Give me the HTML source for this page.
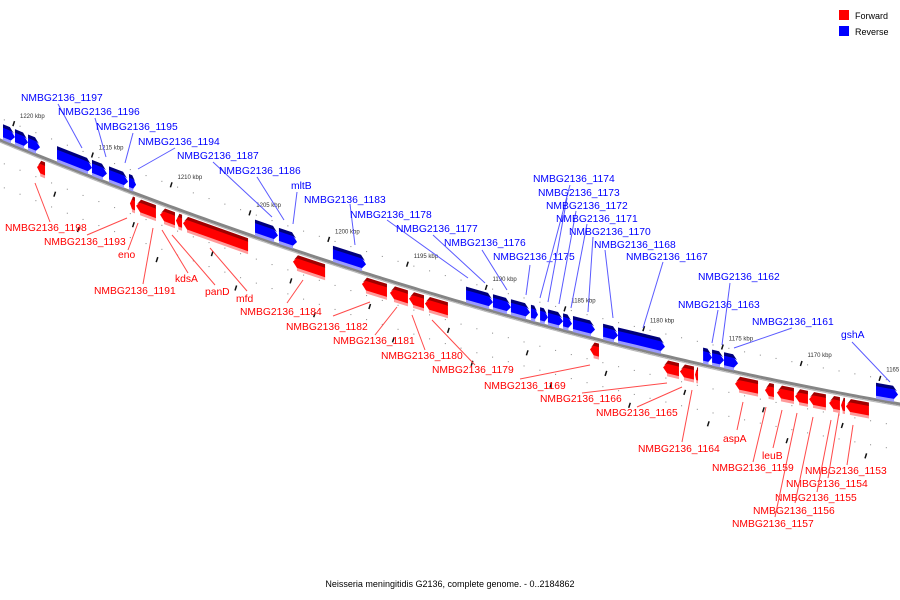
<!DOCTYPE html>
<html><head><meta charset="utf-8"><title>Genome map</title>
<style>
html,body{margin:0;padding:0;background:#fff;}
svg{display:block;font-family:"Liberation Sans","DejaVu Sans",sans-serif;}
</style></head>
<body>
<svg id="map" width="900" height="600" viewBox="0 0 900 600">
  <rect x="0" y="0" width="900" height="600" fill="#fff"/>
  <g id="grid"></g>
  <path id="backbone" fill="none" stroke="#858585" stroke-width="3"/>
  <path id="backbone2" fill="none" stroke="#b8b8b8" stroke-width="1"/>
  <g id="ticks"></g>
  <g id="genes"></g>
  <g id="labels"></g>
  <g>
    <rect x="839" y="10" width="10" height="10" fill="#ff0000"/>
    <text x="855" y="19" font-size="9" fill="#000">Forward</text>
    <rect x="839" y="26" width="10" height="10" fill="#0000ff"/>
    <text x="855" y="35" font-size="9" fill="#000">Reverse</text>
  </g>
  <text x="450" y="587" font-size="9" text-anchor="middle" fill="#000">Neisseria meningitidis G2136, complete genome. - 0..2184862</text>
</svg>
<script>
// ---- data (kbp coordinates) ----
const tickKbp = [1220,1215,1210,1205,1200,1195,1190,1185,1180,1175,1170,1165];
const geneStart = [1221.08,1220.32,1219.49,1217.65,1215.43,1214.35,1213.08,1205.08,1203.56,1200.13,1191.68,1189.97,1188.83,1187.56,1186.98,1186.48,1185.52,1184.89,1182.98,1182.03,1176.63,1176.06,1175.30,1165.65,
  1218.92,1213.02,1212.63,1211.11,1210.10,1209.65,1202.67,1198.29,1196.51,1195.30,1194.29,1183.81,1179.17,1178.10,1177.14,1174.60,1172.70,1171.94,1170.79,1169.90,1168.63,1167.87,1167.56];
const geneEnd = [1220.32,1219.49,1218.73,1215.43,1214.48,1213.14,1212.63,1203.62,1202.41,1198.03,1189.97,1188.83,1187.62,1187.11,1186.48,1185.52,1184.95,1183.49,1182.03,1179.05,1176.06,1175.30,1174.41,1164.25,
  1218.41,1212.70,1211.37,1210.16,1209.71,1205.52,1200.63,1196.70,1195.37,1194.35,1192.83,1183.24,1178.16,1177.21,1176.95,1173.14,1172.13,1170.86,1169.97,1168.83,1167.94,1167.62,1166.10];
const geneStrand = ['-','-','-','-','-','-','-','-','-','-','-','-','-','-','-','-','-','-','-','-','-','-','-','-',
  '+','+','+','+','+','+','+','+','+','+','+','+','+','+','+','+','+','+','+','+','+','+','+'];

// ---- labels (annotation layout) ----
const labelText = ['NMBG2136_1197','NMBG2136_1196','NMBG2136_1195','NMBG2136_1194','NMBG2136_1187','NMBG2136_1186','mltB','NMBG2136_1183','NMBG2136_1178','NMBG2136_1177','NMBG2136_1176','NMBG2136_1175','NMBG2136_1174','NMBG2136_1173','NMBG2136_1172','NMBG2136_1171','NMBG2136_1170','NMBG2136_1168','NMBG2136_1167','NMBG2136_1162','NMBG2136_1163','NMBG2136_1161','gshA',
  'NMBG2136_1198','NMBG2136_1193','eno','NMBG2136_1191','kdsA','panD','mfd','NMBG2136_1184','NMBG2136_1182','NMBG2136_1181','NMBG2136_1180','NMBG2136_1179','NMBG2136_1169','NMBG2136_1166','NMBG2136_1165','NMBG2136_1164','aspA','leuB','NMBG2136_1159','NMBG2136_1153','NMBG2136_1154','NMBG2136_1155','NMBG2136_1156','NMBG2136_1157'];
const labelStrand = ['-','-','-','-','-','-','-','-','-','-','-','-','-','-','-','-','-','-','-','-','-','-','-',
  '+','+','+','+','+','+','+','+','+','+','+','+','+','+','+','+','+','+','+','+','+','+','+','+'];
const labelPos = [[21,97],[58,111],[96,126],[138,141],[177,155],[219,170],[291,185],[304,199],[350,214],[396,228],[444,242],[493,256],[533,178],[538,192],[546,205],[556,218],[569,231],[594,244],[626,256],[698,276],[678,304],[752,321],[841,334],
  [5,227],[44,241],[118,254],[94,290],[175,278],[205,291],[236,298],[240,311],[286,326],[333,340],[381,355],[432,369],[484,385],[540,398],[596,412],[638,448],[723,438],[762,455],[712,467],[805,470],[786,483],[775,497],[753,510],[732,523]];
const leaderPts = [[58,104,82,148],[95,118,106,157],[133,133,125,163],[175,148,138,169],[213,162,272,217],[257,177,284,220],[297,192,293,224],[350,204,355,245],[387,220,468,278],[433,235,485,283],[482,250,507,290],[530,265,526,295],[570,185,540,298],[567,198,548,302],[576,211,559,304],[587,224,571,308],[593,237,588,312],[605,250,613,318],[663,262,643,328],[730,283,722,345],[718,310,712,343],[792,328,734,348],[852,342,890,382],
  [35,183,50,222],[87,235,127,218],[128,250,138,223],[143,284,153,228],[188,273,162,230],[215,285,172,235],[247,291,210,248],[287,303,303,280],[333,316,370,302],[375,335,397,307],[425,350,412,315],[475,365,432,320],[520,379,590,365],[582,393,667,383],[637,407,682,387],[682,442,692,390],[737,430,743,402],[773,448,782,410],[753,462,766,407],[847,465,853,425],[828,478,839,413],[817,492,831,420],[795,503,813,417],[775,517,797,413]];

// ---- axis functions ----
function X(k){return 20+(1220-k)*15.75;}
function Y(x){return 140+0.413*x-0.000133*x*x;}
function slope(x){return 0.413-0.000266*x;}
function deg(x){return Math.atan(slope(x))*180/Math.PI;}
const NS='http://www.w3.org/2000/svg';
function mk(tag,attrs,parent){const e=document.createElementNS(NS,tag);for(const k in attrs)e.setAttribute(k,attrs[k]);parent.appendChild(e);return e;}

// backbone
let d='',d2='';
for(let x=-5;x<=905;x+=5){d+=(x===-5?'M':'L')+x+','+Y(x).toFixed(2);d2+=(x===-5?'M':'L')+x+','+(Y(x)+2.2).toFixed(2);}
document.getElementById('backbone').setAttribute('d',d);
document.getElementById('backbone2').setAttribute('d',d2);

// grid dots & dashes along parallel tracks
const grid=document.getElementById('grid');
const dotOffsets=[-22,22,46];
for(let k=1222;k>=1163;k-=1){
  const x=X(k); if(x<0||x>900) continue;
  for(const off of dotOffsets){
    const y=Y(x)+off;
    const dot=mk('rect',{x:(x-0.5).toFixed(1),y:(y-0.5).toFixed(1),width:1.1,height:1.1,fill:'#999'},grid);
    
    
  }
}
const dashTracks=[[-22,0.4],[32,-2.2],[58,1.3]];
for(let k=1220;k>=1163;k-=5){
  for(const tr of dashTracks){
    const x=X(k+tr[1]); if(x<2||x>898) continue;
    const y=Y(x)+tr[0];
    const dash=mk('line',{x1:(x-0.8).toFixed(1),y1:(y+2.5).toFixed(1),x2:(x+0.8).toFixed(1),y2:(y-2.5).toFixed(1),stroke:'#111','stroke-width':1.5},grid);
    
    
  }
}

// tick labels
const ticks=document.getElementById('ticks');
tickKbp.forEach(k=>{
  const x=X(k);
  const t=mk('text',{x:x.toFixed(1),y:(Y(x)-30).toFixed(1),'font-size':6,fill:'#333','font-family':'"Liberation Sans",sans-serif'},ticks);
  t.textContent=k+' kbp';
  
  
});

// genes
const genes=document.getElementById('genes');
for(let i=0;i<geneStart.length;i++){
  const xa=X(geneStart[i]), xb=X(geneEnd[i]); const w=xb-xa; const mid=(xa+xb)/2;
  const g=mk('g',{transform:`translate(${xa.toFixed(2)},${Y(xa).toFixed(2)}) skewY(${deg(mid).toFixed(2)})`},genes);
  
  
  const tip=Math.min(4,w*0.4);
  if(geneStrand[i]==='-'){
    mk('polygon',{points:`0,-5 ${w-tip},-5 ${w-tip},-1 0,-1`,fill:'#9a9aff'},g);
    mk('polygon',{points:`0,-14 ${w-tip},-14 ${w},-9 ${w-tip},-4 0,-4`,fill:'#0000ff'},g);
    mk('polygon',{points:`0,-17 ${w-tip-1},-17 ${w-1},-12 ${w-tip},-13.5 0,-13.5`,fill:'#00007a'},g);
  } else {
    mk('polygon',{points:`${tip},16 ${w},16 ${w},20 ${tip},20`,fill:'#ff9a9a'},g);
    mk('polygon',{points:`${tip},7 ${w},7 ${w},17 ${tip},17 0,12`,fill:'#ff0000'},g);
    mk('polygon',{points:`${tip+1},4 ${w},4 ${w},7.5 ${tip},7.5 1,10`,fill:'#a00000'},g);
  }
}

// labels
const labels=document.getElementById('labels');
for(let i=0;i<labelText.length;i++){
  const col=labelStrand[i]==='-'?'#0000ff':'#ff0000';
  const lc=labelStrand[i]==='-'?'#5a5aff':'#ff4a4a';
  const p=leaderPts[i];
  const ln=mk('line',{x1:p[0],y1:p[1],x2:p[2],y2:p[3],stroke:lc,'stroke-width':1},labels);
  
  
  const t=mk('text',{x:labelPos[i][0],y:labelPos[i][1]+4,'font-size':10.3,fill:col},labels);
  t.textContent=labelText[i];
  
  
}
</script>
</body></html>
